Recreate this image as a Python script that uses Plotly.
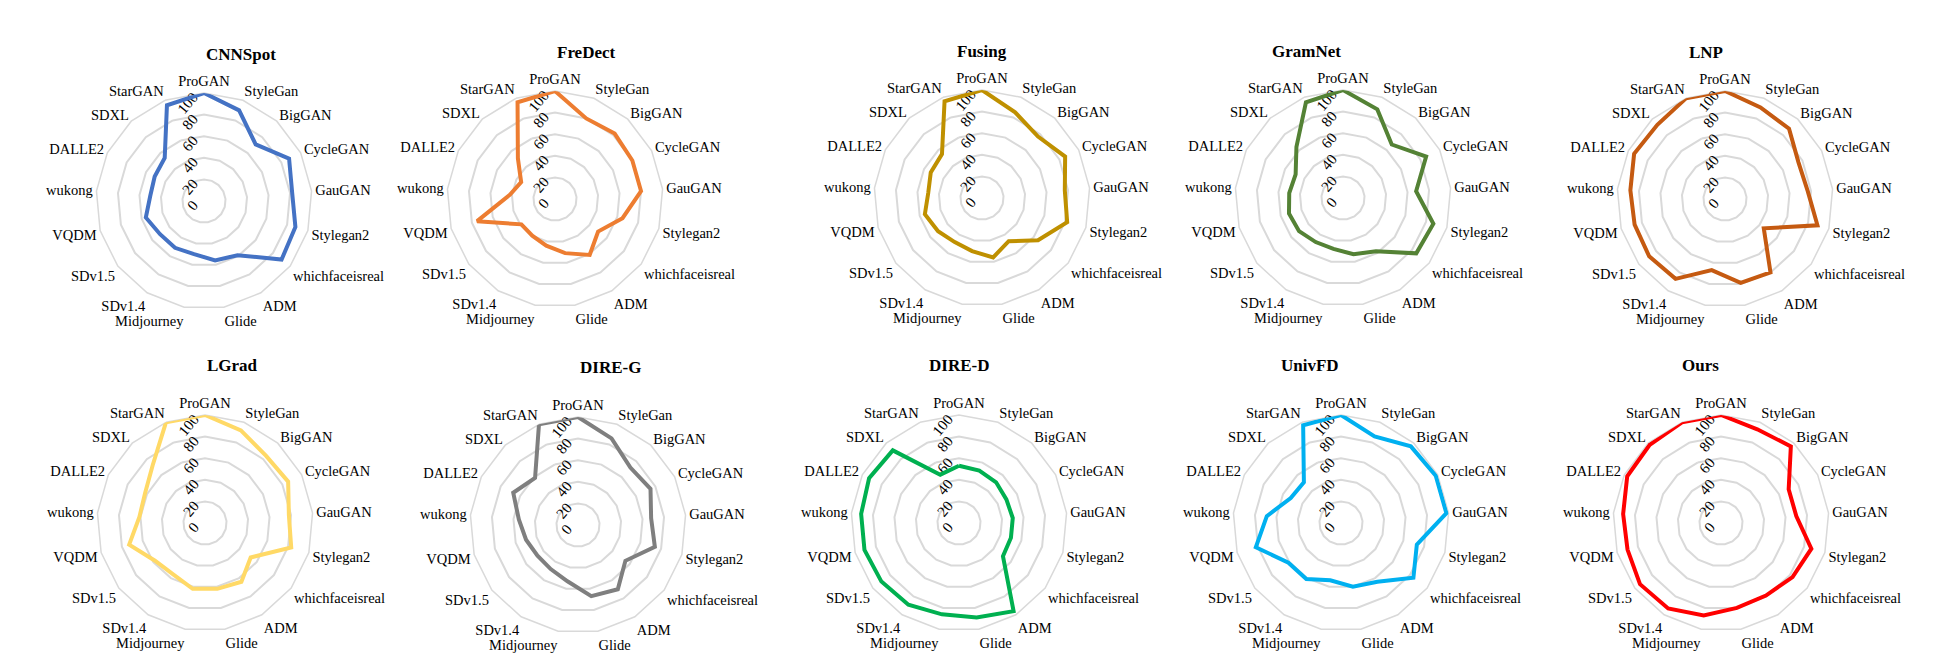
import plotly.graph_objects as go

# 데이터 (레이더 차트 값, 0~100)
categories = ["ProGAN", "StyleGan", "BigGAN", "CycleGAN", "GauGAN", "Stylegan2",
              "whichfaceisreal", "ADM", "Glide", "Midjourney", "SDv1.4", "SDv1.5",
              "VQDM", "wukong", "DALLE2", "SDXL", "StarGAN"]

cnnspot = [100, 90, 71, 88, 82, 88, 90, 59, 56, 50, 51, 51, 56, 50, 51, 54, 95]
fredect = [100, 80, 82, 80, 80, 65, 50, 61, 51, 44, 40, 39, 75, 42, 35, 51, 96]
fusing = [100, 85, 77, 86, 77, 82, 65, 47, 56, 50, 48, 51, 55, 50, 53, 55, 96]
gramnet = [100, 88, 67, 86, 68, 87, 85, 58, 53, 48, 48, 51, 52, 50, 49, 64, 95]
lnp = [100, 91, 88, 76, 77, 89, 45, 80, 79, 67, 87, 88, 87, 88, 94, 93, 100]
lgrad = [100, 92, 84, 86, 78, 83, 53, 64, 62, 62, 56, 58, 73, 61, 62, 72, 100]
dire_g = [100, 86, 72, 75, 68, 74, 55, 70, 67, 53, 48, 47, 50, 55, 67, 59, 100]
dire_d = [53, 52, 51, 49, 50, 50, 51, 96, 89, 86, 89, 90, 91, 91, 93, 91, 48]
univfd = [100, 86, 96, 98, 98, 73, 84, 64, 60, 54, 61, 61, 82, 69, 52, 51, 97]
ours = [100, 93, 96, 70, 70, 87, 83, 79, 80, 87, 93, 94, 90, 91, 97, 98, 100]

names = ["CNNSpot", "FreDect", "Fusing", "GramNet", "LNP",
         "LGrad", "DIRE-G", "DIRE-D", "UnivFD", "Ours"]
series = [cnnspot, fredect, fusing, gramnet, lnp, lgrad, dire_g, dire_d, univfd, ours]
colors = ["#4472C4", "#ED7D31", "#BF9000", "#548235", "#C55A11",
          "#FFD966", "#7F7F7F", "#00B050", "#00B0F0", "#FF0000"]

# 각 레이더 중심 (픽셀)
centers = [(196, 193), (547, 191), (974, 190), (1335, 190), (1717, 191),
           (197, 515), (570, 517), (951, 515), (1333, 515), (1713, 515)]

W, H = 1937, 668
R = 108  # 반지름 (px)

fig = go.Figure()
layout = {}
annotations = []

for i, (name, vals, col, (cx, cy)) in enumerate(zip(names, series, colors, centers)):
    key = "polar" if i == 0 else f"polar{i + 1}"
    fig.add_trace(go.Scatterpolar(
        r=vals + vals[:1], theta=categories + categories[:1],
        mode="lines", line=dict(color=col, width=4), cliponaxis=False,
        subplot=key, showlegend=False, name=name))
    layout[key] = dict(
        domain=dict(x=[(cx - R) / W, (cx + R) / W], y=[1 - (cy + R) / H, 1 - (cy - R) / H]),
        gridshape="linear", bgcolor="white",
        radialaxis=dict(range=[0, 100], tickvals=[0, 20, 40, 60, 80, 100], angle=90,
                        side="counterclockwise", tickangle=40, showline=False, ticks="",
                        gridcolor="#d9d9d9", gridwidth=1.5, layer="below traces",
                        tickfont=dict(family="Liberation Serif", size=15, color="black")),
        angularaxis=dict(categoryorder="array", categoryarray=categories,
                         rotation=90, direction="clockwise", showgrid=False,
                         linecolor="#d9d9d9", linewidth=1.5, layer="below traces",
                         ticks="",
                         tickfont=dict(family="Liberation Serif", size=14.5, color="black")),
    )
    # 제목
    annotations.append(dict(text=f"<b>{name}</b>", x=cx / W, y=1 - (cy - 158) / H,
                            xref="paper", yref="paper", showarrow=False,
                            font=dict(family="Liberation Serif", size=17, color="black")))

fig.update_layout(**layout)
fig.update_layout(width=W, height=H, margin=dict(l=0, r=0, t=0, b=0),
                  paper_bgcolor="white", annotations=annotations)

fig.write_html("out.html")
